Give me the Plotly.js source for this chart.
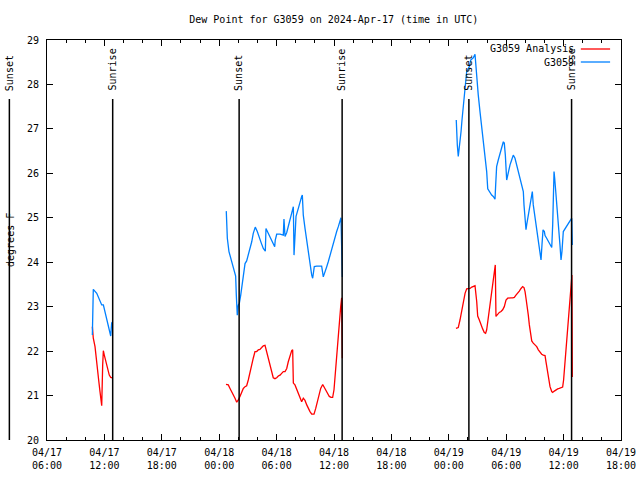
<!DOCTYPE html>
<html><head><meta charset="utf-8">
<script src="https://cdn.plot.ly/plotly-3.0.1.min.js"></script>
<style>html,body{margin:0;padding:0;background:#fff}#chart{width:640px;height:480px}</style>
</head><body><div id="chart"></div>
<script>
// Hours are counted from this UTC time; null breaks the line between data segments
const baseTime = '2024-04-17 06:00';
const xRange = ['2024-04-17 06:00', '2024-04-19 18:00'];
const yRange = [20, 29];
const seriesNames = ['G3059 Analysis', 'G3059'];
const chartTitle = 'Dew Point for G3059 on 2024-Apr-17 (time in UTC)';
const yTitle = 'degrees F';

// G3059 observed dew point (blue)
const obsHours = [
  4.74,4.80,4.84,5.20,5.54,5.72,5.89,6.06,6.24,6.41,6.59,6.66,6.76,6.83,
  null,
  18.74,18.76,18.85,19.02,19.20,19.37,19.55,19.72,19.79,19.89,20.00,20.10,20.25,20.38,20.52,20.70,20.87,21.04,21.22,21.40,
  21.56,21.77,21.98,22.19,22.40,22.61,22.82,22.89,23.10,23.31,23.55,23.80,23.86,24.01,24.36,24.70,24.77,24.88,25.06,25.22,
  25.40,25.58,25.75,25.82,26.03,26.27,26.45,26.62,26.69,26.79,26.97,27.15,27.31,27.49,27.67,27.77,27.94,28.19,28.54,28.71,
  28.88,29.06,29.24,29.40,29.58,29.76,29.93,30.10,30.28,30.45,30.63,30.73,30.80,30.87,
  null,
  42.78,42.80,42.89,42.99,43.10,43.17,43.28,43.38,43.49,43.59,43.70,43.80,43.87,44.04,44.14,44.29,44.43,44.56,44.74,44.92,
  45.08,45.26,45.44,45.61,45.78,45.96,46.07,46.23,46.48,46.65,46.83,46.90,47.00,47.17,47.35,47.53,47.70,47.80,47.91,48.05,
  48.16,48.26,48.40,48.57,48.74,48.92,49.10,49.26,49.44,49.62,49.79,49.86,49.97,50.07,50.14,50.25,50.39,50.52,50.62,50.73,
  50.83,51.01,51.19,51.36,51.53,51.64,51.74,51.85,51.99,52.06,52.23,52.40,52.58,52.76,52.86,52.93,53.00,53.07,53.13,53.28,
  53.38,53.49,53.62,53.73,53.83,53.97,54.15,54.32,54.49,54.67,54.85,54.91
];
const obsDewpt = [
  22.36,22.89,23.39,23.30,23.15,23.04,23.04,22.89,22.74,22.55,22.36,22.34,22.63,22.65,
  null,
  25.15,24.95,24.54,24.24,24.09,23.94,23.79,23.69,23.26,22.81,23.04,23.07,23.26,23.49,23.75,23.97,24.03,24.16,24.31,24.46,
  24.65,24.79,24.69,24.58,24.43,24.31,24.25,24.76,24.67,24.58,24.46,24.35,24.50,24.63,24.63,24.61,24.97,24.58,24.67,24.80,
  24.93,25.10,25.25,24.16,25.03,25.21,25.37,25.48,25.51,25.06,24.76,24.46,24.20,23.94,23.71,23.64,23.90,23.91,23.91,23.91,
  23.67,23.77,23.90,24.01,24.16,24.28,24.43,24.56,24.69,24.80,24.93,25.00,24.35,23.67,
  null,
  27.20,26.98,26.64,26.38,26.56,26.75,26.94,27.20,27.46,27.72,27.99,28.17,28.29,28.36,28.40,28.55,28.57,28.60,28.68,28.14,
  27.76,27.39,27.05,26.75,26.41,26.04,25.65,25.59,25.51,25.48,25.42,25.74,26.15,26.30,26.45,26.60,26.71,26.68,26.41,25.85,
  25.96,26.08,26.19,26.30,26.41,26.34,26.19,26.04,25.89,25.74,25.59,25.29,24.99,24.73,24.84,24.99,25.18,25.37,25.51,25.59,
  25.29,24.99,24.73,24.46,24.24,24.05,24.39,24.73,24.69,24.60,24.54,24.46,24.39,24.33,24.84,25.29,26.04,25.89,25.74,25.37,
  24.99,24.69,24.39,24.05,24.24,24.69,24.75,24.80,24.86,24.91,24.99,24.39
];

// G3059 Analysis dew point (red)
const anaHours = [
  4.74,4.84,5.02,5.12,5.26,5.40,5.54,5.64,5.72,5.82,5.89,5.99,6.17,6.34,6.51,6.66,6.83,
  null,
  18.71,18.95,19.13,19.31,19.47,19.65,19.83,20.00,20.17,20.35,20.52,20.70,20.87,21.04,21.22,21.40,21.56,21.74,21.92,22.09,
  22.26,22.44,22.61,22.79,22.96,23.13,23.31,23.49,23.65,23.83,24.01,24.18,24.36,24.53,24.70,24.88,25.06,25.22,25.40,25.58,
  25.68,25.75,25.92,26.10,26.27,26.45,26.62,26.79,26.97,27.15,27.31,27.49,27.67,27.91,28.09,28.25,28.43,28.61,28.82,28.99,
  29.16,29.34,29.51,29.69,29.86,30.00,30.10,30.21,30.28,30.39,30.45,30.56,30.63,30.70,30.80,30.87,
  null,
  42.75,42.99,43.17,43.35,43.52,43.70,43.87,44.04,44.22,44.40,44.56,44.74,44.92,45.02,45.19,45.36,45.54,45.71,45.85,45.96,
  46.13,46.31,46.48,46.65,46.80,46.86,46.93,47.11,47.28,47.46,47.63,47.80,47.98,48.16,48.32,48.50,48.68,48.85,49.02,49.20,
  49.37,49.55,49.72,49.86,49.97,50.07,50.21,50.31,50.42,50.56,50.67,50.83,51.01,51.19,51.36,51.53,51.71,51.88,52.06,52.16,
  52.30,52.45,52.58,52.76,52.86,53.03,53.21,53.38,53.55,53.73,53.90,54.00,54.11,54.21,54.32,54.42,54.53,54.63,54.74,54.80,
  54.87,54.91
];
const anaDewpt = [
  22.55,22.29,22.10,21.87,21.65,21.35,21.09,20.86,20.77,21.69,22.01,21.91,21.76,21.61,21.46,21.41,21.40,
  null,
  21.25,21.24,21.16,21.09,21.01,20.94,20.85,20.90,20.98,21.07,21.16,21.20,21.22,21.35,21.54,21.69,21.84,21.99,21.99,22.03,
  22.04,22.08,22.12,22.13,21.99,21.84,21.69,21.54,21.40,21.38,21.40,21.44,21.46,21.50,21.54,21.54,21.61,21.76,21.91,22.01,
  22.03,21.28,21.24,21.14,21.05,20.96,20.86,20.94,20.89,20.79,20.71,20.64,20.58,20.58,20.71,20.86,21.01,21.16,21.25,21.18,
  21.11,21.05,20.98,20.96,20.96,21.13,21.42,21.65,21.95,22.18,22.44,22.70,22.85,23.00,23.20,21.84,
  null,
  22.51,22.53,22.70,22.92,23.11,23.30,23.40,23.40,23.41,23.44,23.45,23.47,23.11,22.79,22.70,22.59,22.50,22.42,22.40,22.48,
  22.74,23.11,23.38,23.64,23.83,23.94,22.78,22.83,22.87,22.89,22.93,23.00,23.15,23.19,23.20,23.20,23.20,23.21,23.26,23.30,
  23.35,23.41,23.45,23.43,23.34,23.19,23.00,22.81,22.59,22.40,22.23,22.18,22.15,22.10,22.03,21.97,21.93,21.91,21.90,21.76,
  21.54,21.35,21.20,21.09,21.07,21.10,21.13,21.15,21.16,21.18,21.19,21.35,21.65,21.99,22.29,22.63,22.93,23.26,23.56,23.71,
  23.71,21.42
];

const sunsetTimes  = ['2024-04-17 02:04', '2024-04-18 02:05', '2024-04-19 02:06'];
const sunriseTimes = ['2024-04-17 12:52', '2024-04-18 12:51', '2024-04-19 12:50'];

// ---------- helpers ----------
function toMs(s) { return Date.parse(s.replace(' ', 'T') + ':00Z'); }
const baseMs = toMs(baseTime);
function hourToDate(h) {
  if (h === null) return null;
  return new Date(baseMs + h * 3600000).toISOString().replace('T', ' ').replace('Z', '');
}
const x0ms = toMs(xRange[0]), x1ms = toMs(xRange[1]);
function timeToPaper(s) { return (toMs(s) - x0ms) / (x1ms - x0ms); }

const FONT = 'DejaVu Sans Mono, Liberation Mono, monospace';
const RED = '#ff0000', BLUE = '#0080ff';

const traces = [
  { type: 'scatter', mode: 'lines', name: seriesNames[0],
    x: anaHours.map(hourToDate), y: anaDewpt, connectgaps: false,
    line: { color: RED, width: 1.3 } },
  { type: 'scatter', mode: 'lines', name: seriesNames[1],
    x: obsHours.map(hourToDate), y: obsDewpt, connectgaps: false,
    line: { color: BLUE, width: 1.3 } }
];

const shapes = [];
const annotations = [];
function addSunLine(t, label) {
  const p = timeToPaper(t);
  shapes.push({ type: 'line', xref: 'paper', yref: 'paper', x0: p, x1: p, y0: 0, y1: 0.8525,
    line: { color: 'black', width: 1.5 }, layer: 'above' });
  annotations.push({ xref: 'paper', yref: 'paper', x: p, y: 0.868, text: label, textangle: -90,
    showarrow: false, xanchor: 'center', yanchor: 'bottom', font: { family: FONT, size: 10, color: 'black' } });
}
sunsetTimes.forEach(t => addSunLine(t, 'Sunset'));
sunriseTimes.forEach(t => addSunLine(t, 'Sunrise'));

// gnuplot style key: text right aligned, sample line to its right
const keyY = [0.9775, 0.945];
const keyColors = [RED, BLUE];
seriesNames.forEach((n, i) => {
  annotations.push({ xref: 'paper', yref: 'paper', x: 0.9216, y: keyY[i], text: n, showarrow: false,
    xanchor: 'right', yanchor: 'middle', font: { family: FONT, size: 10, color: 'black' } });
  shapes.push({ type: 'line', xref: 'paper', yref: 'paper', x0: 0.930, x1: 0.981, y0: keyY[i], y1: keyY[i],
    line: { color: keyColors[i], width: 1.3 } });
});

annotations.push({ xref: 'paper', yref: 'paper', x: -0.0645, y: 0.5, text: yTitle, textangle: -90,
  showarrow: false, xanchor: 'center', yanchor: 'middle', font: { family: FONT, size: 10, color: 'black' } });

const axisCommon = {
  showline: true, linecolor: 'black', linewidth: 1, mirror: 'ticks',
  ticks: 'inside', ticklen: 6, tickcolor: 'black', tickwidth: 1,
  showgrid: false, zeroline: false,
  tickfont: { family: FONT, size: 10, color: 'black' }
};

const layout = {
  width: 640, height: 480,
  margin: { l: 47, r: 19, t: 40, b: 40 },
  paper_bgcolor: 'white', plot_bgcolor: 'white',
  showlegend: false,
  title: { text: chartTitle, x: 0.5215, xanchor: 'center', y: 0.9604, yanchor: 'middle', yref: 'container',
           font: { family: FONT, size: 10, color: 'black' } },
  xaxis: Object.assign({}, axisCommon, {
    type: 'date', range: xRange, tick0: xRange[0], dtick: 6 * 3600000,
    tickformat: '%m/%d<br>%H:%M', ticklabelstandoff: 3,
    minor: { dtick: 2 * 3600000, ticks: 'inside', ticklen: 3, tickcolor: 'black', showgrid: false }
  }),
  yaxis: Object.assign({}, axisCommon, { range: yRange, dtick: 1, tick0: 20, ticklabelstandoff: 5 }),
  shapes: shapes,
  annotations: annotations
};

Plotly.newPlot('chart', traces, layout, { displayModeBar: false, staticPlot: true });
</script>
</body></html>
